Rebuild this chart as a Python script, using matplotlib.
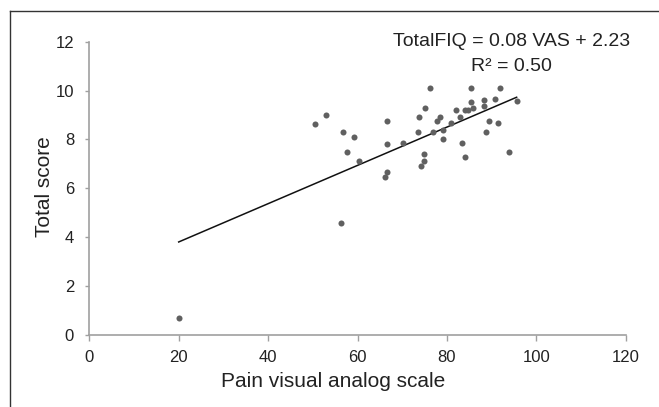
import matplotlib
matplotlib.use("Agg")
import matplotlib.pyplot as plt
from matplotlib.lines import Line2D
import numpy as np

plt.rcParams['font.family'] = ['Liberation Sans', 'DejaVu Sans']

# pain VAS vs total FIQ score
vas = [20.0, 50.6, 53.0, 56.7, 57.6, 56.3, 59.2, 60.3, 66.6, 66.6,
       66.6, 66.1, 70.2, 73.5, 73.8, 75.1, 74.8, 74.8, 74.3, 76.3,
       76.8, 77.7, 78.4, 79.2, 79.2, 81.0, 82.0, 83.0, 83.3, 84.1,
       84.1, 84.8, 85.4, 85.4, 85.9, 88.2, 88.2, 88.7, 89.5, 90.7,
       91.9, 91.5, 93.9, 95.6]
fiq = [0.68, 8.61, 8.98, 8.31, 7.48, 4.56, 8.09, 7.11, 8.77, 7.79,
       6.67, 6.44, 7.86, 8.31, 8.91, 9.28, 7.42, 7.11, 6.89, 10.11,
       8.31, 8.77, 8.92, 8.38, 8.00, 8.68, 9.21, 8.91, 7.86, 9.21,
       7.26, 9.21, 10.11, 9.51, 9.28, 9.61, 9.36, 8.31, 8.77, 9.66,
       10.11, 8.68, 7.48, 9.58]

fit_slope = 0.0784
fit_intercept = 2.23
equation = "TotalFIQ = 0.08 VAS + 2.23"
r2_text = "R\u00b2 = 0.50"

x_ticks = [0, 20, 40, 60, 80, 100, 120]
y_ticks = [0, 2, 4, 6, 8, 10, 12]

W, H = 659, 407
fig = plt.figure(figsize=(W / 100, H / 100), dpi=100)

# outer frame (only left and top edges visible in the crop)
fig.add_artist(Line2D([10 / W, 10 / W], [0, 1 - 10.7 / H], color="#333333", lw=1.0))
fig.add_artist(Line2D([10 / W, 1], [1 - 10.7 / H, 1 - 10.7 / H], color="#333333", lw=1.0))

ax = fig.add_axes([89.3 / W, 1 - 334.7 / H, 536.4 / W, 293.0 / H])
ax.set_xlim(0, 120)
ax.set_ylim(0, 12)

ax.scatter(vas, fiq, s=19, color="#606060", linewidths=0, zorder=3)

xf = np.array([min(vas), max(vas)])
ax.plot(xf, fit_slope * xf + fit_intercept, color="#111111", lw=1.1, zorder=2)

for side in ["top", "right"]:
    ax.spines[side].set_visible(False)
for side in ["left", "bottom"]:
    ax.spines[side].set_color("#a0a0a0")
    ax.spines[side].set_linewidth(1.2)

ax.set_xticks(x_ticks)
ax.set_yticks(y_ticks)
ax.tick_params(axis="y", direction="out", length=3, width=1.0, color="#a0a0a0",
               pad=8, labelsize=12, labelcolor="#222222")
ax.tick_params(axis="x", direction="out", length=4, width=1.0, color="#a0a0a0",
               pad=7, labelsize=12, labelcolor="#222222")

ax.set_xlabel("Pain visual analog scale", fontsize=15, color="#222222")
ax.xaxis.set_label_coords(0.454, -0.161)
ax.xaxis.label.set_va("center")
ax.set_ylabel("Total score", fontsize=15, color="#222222")
ax.yaxis.set_label_coords(-0.0826, 0.504)
ax.yaxis.label.set_va("center")

ax.text(0.787, 1.0, equation, transform=ax.transAxes, ha="center", va="center",
        fontsize=14, color="#222222")
ax.text(0.787, 0.915, r2_text, transform=ax.transAxes, ha="center", va="center",
        fontsize=14, color="#222222")

fig.savefig("out.png", dpi=100)
